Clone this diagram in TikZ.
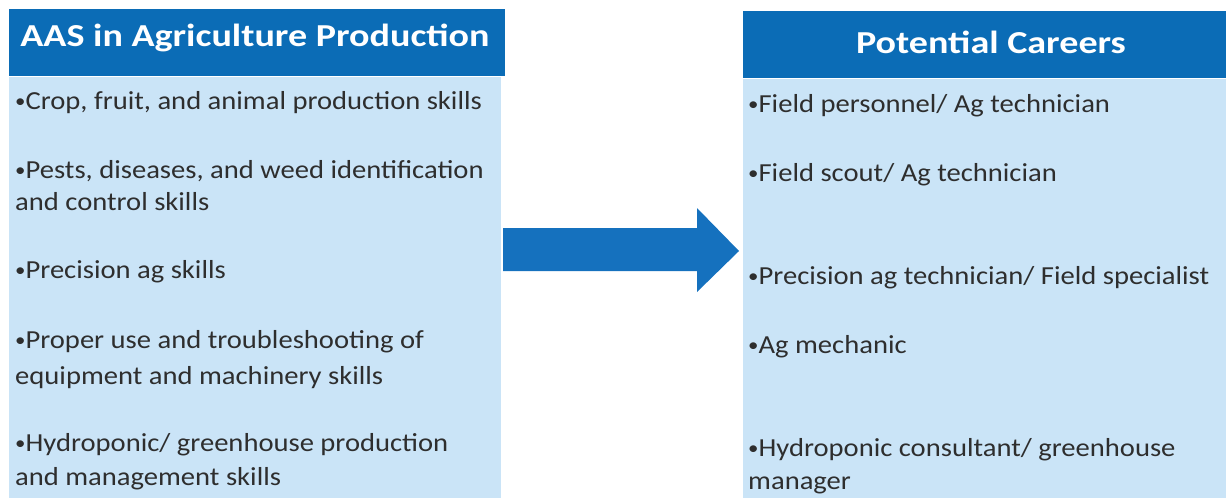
\documentclass[tikz,border=0pt]{standalone}
\usepackage{fontspec}
\setmainfont{Carlito}
\newfontfamily\hdrfont[FakeStretch=1.19]{Carlito}
\newfontfamily\bodyfont[FakeStretch=1.10]{Carlito}
\newcommand\mybul{{\fontsize{19}{19}\selectfont\raisebox{1.5pt}{•}}}
\definecolor{hdrblue}{HTML}{0B6CB6}
\definecolor{bodyblue}{HTML}{CAE4F7}
\definecolor{arrblue}{HTML}{1571BE}
\definecolor{txtgray}{HTML}{2E2E2E}
\begin{document}
\begin{tikzpicture}[x=1pt,y=-1pt,
  hdr/.style={fill=hdrblue,draw=none},
  bodybox/.style={fill=bodyblue,draw=none},
  hdrtext/.style={text=white,font=\hdrfont\fontsize{32}{36}\selectfont\bfseries,inner sep=0pt},
  item/.style={anchor=base west,text=txtgray,font=\bodyfont\fontsize{26}{30}\selectfont,inner sep=0pt}]
\useasboundingbox (0,0) rectangle (1226,498);
% left panel
\fill[bodybox] (9,77) rectangle (501,498);
\fill[hdr] (9,9) rectangle (505,76);
\node[hdrtext] (lt) at (255,38) {AAS in Agriculture Production};
% right panel
\fill[bodybox] (743,79) rectangle (1226,498);
\fill[hdr] (743,11) rectangle (1226,78);
\node[hdrtext] (rt) at (991,42) {Potential Careers};
% arrow
\fill[arrblue] (503,228) -- (697,228) -- (697,208) -- (739,251) -- (697,292) -- (697,271) -- (503,271) -- cycle;
% left items
\node[item] (l1) at (15,109) {\mybul Crop, fruit, and animal production skills};
\node[item] (l2a) at (15,178) {\mybul Pests, diseases, and weed identification};
\node[item] (l2b) at (15,210) {and control skills};
\node[item] (l3) at (15,278) {\mybul Precision ag skills};
\node[item] (l4a) at (15,348) {\mybul Proper use and troubleshooting of};
\node[item] (l4b) at (15,384) {equipment and machinery skills};
\node[item] (l5a) at (15,451) {\mybul Hydroponic/ greenhouse production};
\node[item] (l5b) at (15,485) {and management skills};
% right items
\node[item] (r1) at (748,112) {\mybul Field personnel/ Ag technician};
\node[item] (r2) at (748,181) {\mybul Field scout/ Ag technician};
\node[item] (r3) at (748,284) {\mybul Precision ag technician/ Field specialist};
\node[item] (r4) at (748,353) {\mybul Ag mechanic};
\node[item] (r5a) at (748,456) {\mybul Hydroponic consultant/ greenhouse};
\node[item] (r5b) at (748,489) {manager};
\end{tikzpicture}
\end{document}
